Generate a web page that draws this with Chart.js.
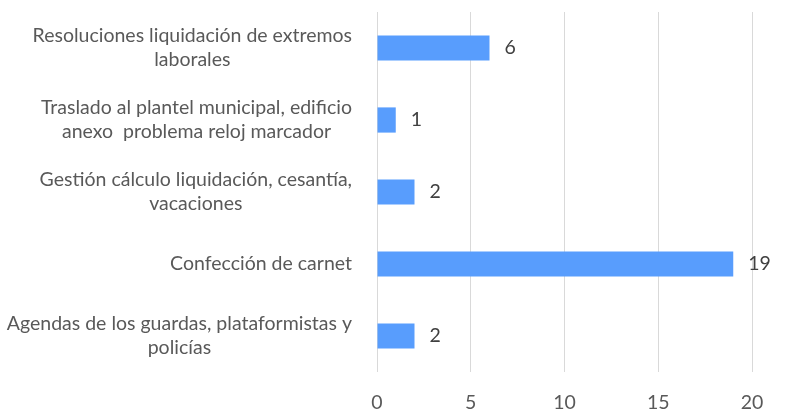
<!DOCTYPE html>
<html>
<head>
<meta charset="utf-8">
<script src="https://cdn.jsdelivr.net/npm/chart.js@4.4.1/dist/chart.umd.min.js"></script>
<style>
  html, body { margin: 0; padding: 0; background: #ffffff; }
  #wrap { width: 787px; height: 412px; position: relative; }
</style>
</head>
<body>
<div id="wrap"><canvas id="c" width="787" height="412"></canvas></div>
<script>
const categories = [
  ["Resoluciones liquidación de extremos", "laborales"],
  ["Traslado al plantel municipal, edificio", "anexo  problema reloj marcador"],
  ["Gestión cálculo liquidación, cesantía,", "vacaciones"],
  ["Confección de carnet"],
  ["Agendas de los guardas, plataformistas y", "policías"]
];
const values = [6, 1, 2, 19, 2];
const axisMin = 0;
const axisMax = 20;
const axisStep = 5;

const FONT = "Lato, 'Open Sans', sans-serif";
const FONT_SIZE = 19.5;
const LABEL_COLOR = "#595959";
const VALUE_COLOR = "#404040";

const categoryLabels = {
  id: "categoryLabels",
  afterDraw(chart) {
    const ctx = chart.ctx;
    const ys = chart.scales.y;
    const right = chart.chartArea.left - 25;
    const lineH = 24;
    ctx.save();
    ctx.font = FONT_SIZE + "px " + FONT;
    ctx.fillStyle = LABEL_COLOR;
    ctx.textAlign = "center";
    ctx.textBaseline = "middle";
    categories.forEach((lines, i) => {
      const y = ys.getPixelForTick(i);
      const w = Math.max(...lines.map(l => ctx.measureText(l).width));
      const cx = right - w / 2;
      lines.forEach((l, j) => {
        ctx.fillText(l, cx, y + (j - (lines.length - 1) / 2) * lineH);
      });
    });
    ctx.restore();
  }
};

const valueLabels = {
  id: "valueLabels",
  afterDatasetsDraw(chart) {
    const ctx = chart.ctx;
    const meta = chart.getDatasetMeta(0);
    ctx.save();
    ctx.font = FONT_SIZE + "px " + FONT;
    ctx.fillStyle = VALUE_COLOR;
    ctx.textAlign = "left";
    ctx.textBaseline = "middle";
    meta.data.forEach((bar, i) => {
      ctx.fillText(String(values[i]), bar.x + 15, bar.y);
    });
    ctx.restore();
  }
};

new Chart(document.getElementById("c"), {
  type: "bar",
  data: {
    labels: categories.map(l => l.join(" ")),
    datasets: [{
      data: values,
      backgroundColor: "#589DFD",
      borderWidth: 0,
      barPercentage: 0.35,
      categoryPercentage: 1.0
    }]
  },
  options: {
    indexAxis: "y",
    responsive: false,
    animation: false,
    devicePixelRatio: 1,
    layout: { padding: { top: 12, right: 35, left: 0, bottom: 0 } },
    plugins: { legend: { display: false }, tooltip: { enabled: false } },
    scales: {
      x: {
        min: axisMin,
        max: axisMax,
        ticks: {
          stepSize: axisStep,
          color: LABEL_COLOR,
          font: { family: FONT, size: FONT_SIZE },
          padding: 19
        },
        grid: { color: "#D9D9D9", lineWidth: 1, drawTicks: false },
        border: { display: false },
        afterFit(s) { s.height = 40; }
      },
      y: {
        ticks: { display: false },
        grid: { display: false },
        border: { display: false },
        afterFit(s) { s.width = 377; }
      }
    }
  },
  plugins: [categoryLabels, valueLabels]
});
</script>
</body>
</html>
